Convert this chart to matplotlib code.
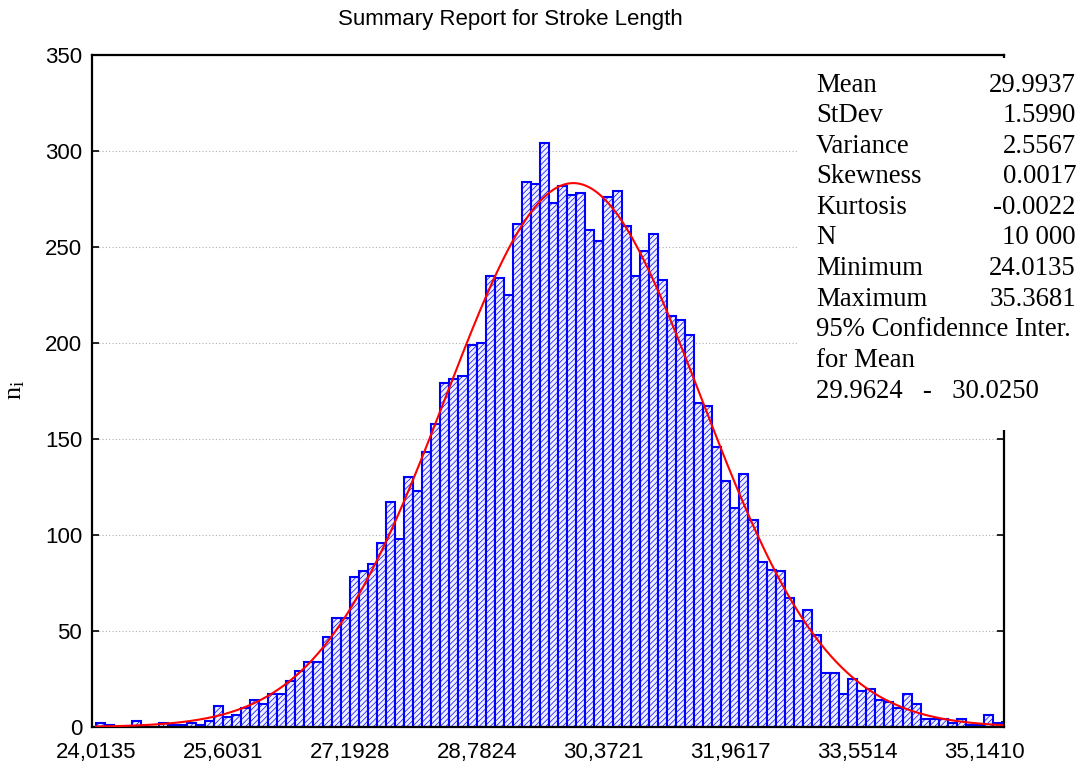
import numpy as np
import matplotlib
matplotlib.use("Agg")
import matplotlib.pyplot as plt
from matplotlib.patches import Rectangle

# Histogram of stroke length: 100 classes between minimum and maximum
x_min = 24.0135
x_max = 35.3681
n_bins = 100
counts = [
    2, 1, 0, 0, 3, 0, 0, 2, 1, 1,
    2, 1, 3, 11, 5, 6, 10, 14, 12, 17,
    17, 24, 29, 34, 34, 47, 57, 57, 78, 81,
    85, 96, 117, 98, 130, 123, 143, 158, 179, 181,
    183, 199, 200, 235, 234, 225, 262, 284, 283, 304,
    273, 282, 277, 278, 259, 253, 276, 279, 261, 235,
    248, 257, 233, 214, 212, 204, 169, 167, 146, 128,
    114, 132, 108, 86, 82, 81, 67, 55, 61, 48,
    28, 28, 17, 25, 19, 20, 14, 13, 10, 17,
    12, 4, 4, 4, 2, 4, 1, 1, 6, 2,
]

# Summary statistics printed in the box
mean = 29.9937
stdev = 1.5990
n_total = 10000
stat_names = ["Mean", "StDev", "Variance", "Skewness", "Kurtosis", "N", "Minimum", "Maximum"]
stat_values = ["29.9937", "1.5990", "2.5567", "0.0017", "-0.0022", "10 000", "24.0135", "35.3681"]
ci_lines = ["95% Confidennce Inter.", "for Mean", "29.9624   -   30.0250"]

label_every = 14   # labelled ticks every 14 classes
mark_every = 5     # small tick marks every 5 classes
y_ticks = [0, 50, 100, 150, 200, 250, 300, 350]

W, H = 1079, 766
plt.rcParams['hatch.linewidth'] = 0.5
fig = plt.figure(figsize=(W / 100, H / 100), dpi=100)
ax = fig.add_axes([92 / W, 1 - 727 / H, 912 / W, 672 / H])


def fpos(x, y):
    # pixel position (top-left origin) -> figure fraction
    return x / W, 1 - y / H


bw = (x_max - x_min) / n_bins
edges = x_min + bw * np.arange(n_bins + 1)

ax.bar(edges[:-1], counts, width=bw, align='edge', facecolor='#eef0ff',
       edgecolor='#0000ff', linewidth=1.5, hatch='//////', zorder=2)

# Expected normal curve
xs = np.linspace(x_min, x_max, 500)
ys = n_total * bw / (stdev * np.sqrt(2 * np.pi)) * np.exp(-0.5 * ((xs - mean) / stdev) ** 2)
ax.plot(xs, ys, color='red', linewidth=1.5, zorder=3)

ax.set_xlim(x_min - 0.05, x_max + 0.022)
ax.set_ylim(0, 350)

lab_pos = edges[::label_every]
ax.set_xticks(lab_pos)
ax.set_xticklabels([f"{v:.4f}".replace('.', ',') for v in lab_pos],
                   fontsize=16, family='Liberation Sans')
ax.set_xticks(edges[::mark_every], minor=True)
ax.tick_params(axis='x', which='major', length=0, pad=11)
ax.tick_params(axis='x', which='minor', direction='in', length=4, width=1.2)

ax.set_yticks(y_ticks)
ax.set_yticklabels([str(v) for v in y_ticks], fontsize=16, family='Liberation Sans')
ax.tick_params(axis='y', direction='in', length=5, width=1.2, right=True, pad=7)

ax.yaxis.grid(True, linestyle=(0, (1, 2)), color='#b0b0b0', linewidth=0.8)
ax.set_axisbelow(True)
for sp in ax.spines.values():
    sp.set_linewidth(1.6)

fig.text(*fpos(16, 390), r'$\mathregular{n_i}$', rotation=90, ha='center', va='center',
         fontsize=19, family='Liberation Serif')

fig.text(*fpos(510, 20), "Summary Report for Stroke Length", ha='center', va='center',
         fontsize=16, family='Liberation Sans')

# White statistics box drawn over the upper right of the plot
x0, y0 = fpos(798, 430)
x1, y1 = fpos(W, 58)
fig.patches.append(Rectangle((x0, y0), x1 - x0, y1 - y0, transform=fig.transFigure,
                             facecolor='white', edgecolor='none', zorder=5))

row_h = 30.6
top = 85
for i, (name, val) in enumerate(zip(stat_names, stat_values)):
    fig.text(*fpos(816, top + i * row_h), name, ha='left', va='center',
             fontsize=19.3, family='Liberation Serif', zorder=6)
    fig.text(*fpos(1076, top + i * row_h), val, ha='right', va='center',
             fontsize=19.3, family='Liberation Serif', zorder=6)
for j, line in enumerate(ci_lines):
    fig.text(*fpos(816, top + (len(stat_names) + j) * row_h), line, ha='left', va='center',
             fontsize=19.3, family='Liberation Serif', zorder=6)

fig.savefig("out.png", dpi=100)
